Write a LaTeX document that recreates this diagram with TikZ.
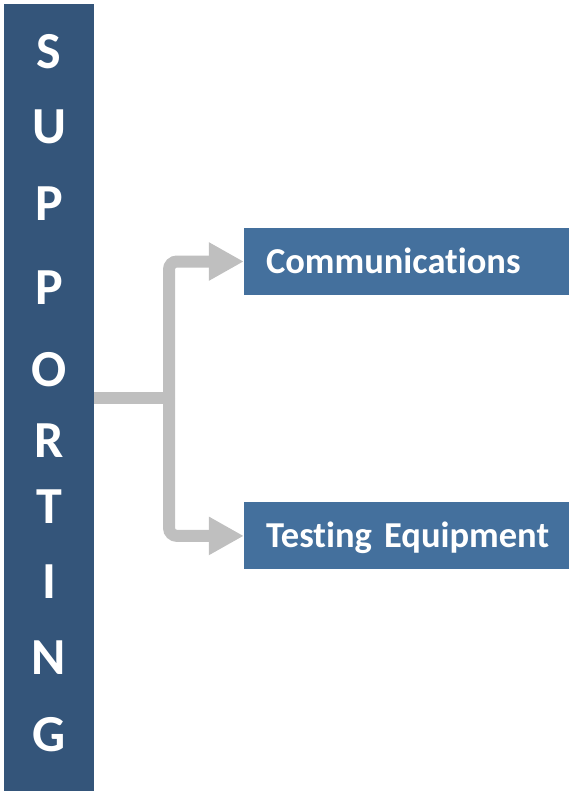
\documentclass[tikz,border=0pt]{standalone}
\usepackage{fontspec}
\setmainfont{Carlito}[Ligatures=NoCommon]
\usetikzlibrary{positioning, arrows.meta}
\definecolor{bardark}{HTML}{34557A}
\definecolor{boxblue}{HTML}{44709D}
\definecolor{linkgray}{HTML}{BFBFBF}

\begin{document}
\begin{tikzpicture}[
      x=1pt, y=-1pt,
      node distance=207pt,
      bar/.style={rectangle, fill=bardark, inner sep=0pt, minimum width=90pt, minimum height=787pt},
      letter/.style={text=white, inner sep=0pt, text height=33pt, text depth=0pt, font=\fontsize{52}{52}\selectfont\bfseries},
      item/.style={rectangle, fill=boxblue, text=white, inner xsep=0pt, inner ysep=0pt, text width=325pt, align=left, execute at begin node={\hspace*{22pt}}, text height=23pt, text depth=0pt, minimum height=67pt, font=\fontsize{36.5}{36.5}\selectfont\bfseries},
      link/.style={draw=linkgray, line width=12pt, rounded corners=8pt},
      arrow/.style={link, -{Triangle[length=35pt,width=36pt]}}
    ]
      \useasboundingbox (0,0) rectangle (571,793);
      \node (bar) [bar] at (49,397.5) {};
      \foreach \ch/\yy [count=\i] in {S/52, U/127, P/204, P/288, O/370, R/441, T/507, I/582, N/658, G/735}
        \node (letter\i) [letter] at (49,\yy) {\ch};

      \node (comm) [item] at (406.5,261.5) {Communications};
      \node (test) [item, below=of comm] {Testing Equipment};

      \coordinate (split) at (169,398);
      \draw [link] (bar.east |- split) -- (split);
      \draw [arrow] (split) |- (comm.west);
      \draw [arrow] (split) |- (test.west);
    \end{tikzpicture}
\end{document}
